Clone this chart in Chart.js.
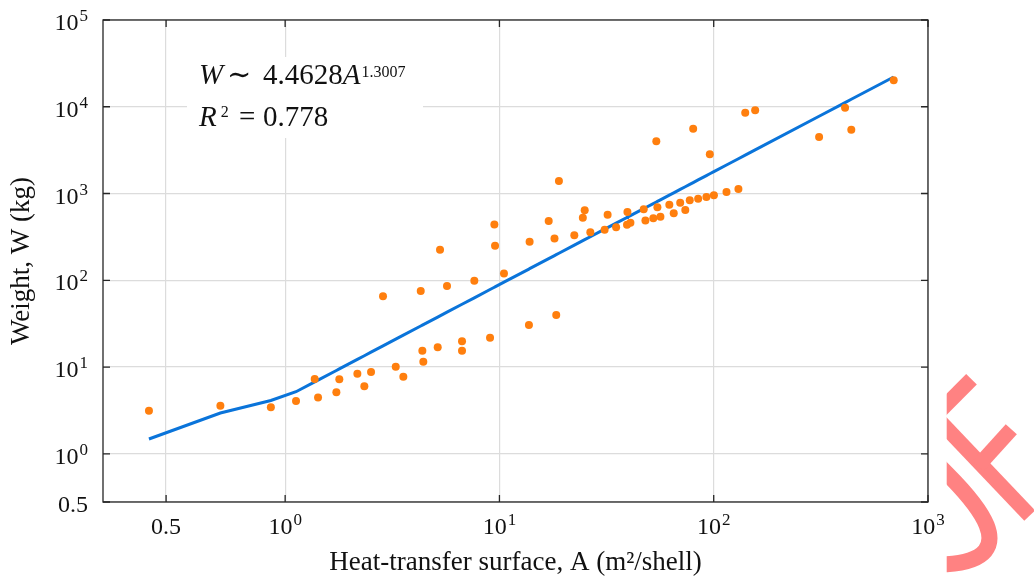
<!DOCTYPE html>
<html lang="en">
<head>
<meta charset="utf-8">
<title>Weight vs heat-transfer surface</title>
<script src="https://cdn.jsdelivr.net/npm/chart.js@4.4.1/dist/chart.umd.min.js"></script>
<style>
    html, body { margin: 0; padding: 0; background: #fff; }
    #div_Chart { width: 1034px; height: 580px; position: relative; }
</style>
</head>
<body>
<div id="div_Chart"><canvas id="chartPeso"></canvas></div>
<script>
// Superficie de troca termica, A (m2/shell)
var areaA = [
    0.428, 0.728, 0.94, 1.124, 1.374, 1.424, 1.734, 1.79, 2.173, 2.342,
    2.517, 2.862, 3.282, 3.561, 4.293, 4.368, 4.414, 5.152, 5.282, 5.693,
    6.69, 6.69, 7.636, 9.04, 9.47, 9.54, 10.5, 13.73, 13.83, 16.98,
    18.07, 18.41, 18.95, 22.36, 24.5, 25.0, 26.56, 30.97, 31.98, 35.04,
    39.39, 39.56, 40.86, 47.13, 48.0, 52.25, 53.97, 54.6, 56.4, 62.07,
    65.07, 69.76, 73.68, 77.3, 80.2, 84.6, 92.45, 95.9, 100.2, 114.7,
    130.4, 140.3, 156.1, 310.3, 410.1, 438.6, 691.7
];
// Peso, W (kg)
var pesoW = [
    3.13, 3.58, 3.43, 4.05, 7.27, 4.47, 5.11, 7.21, 8.37, 5.99,
    8.75, 65.3, 10.1, 7.73, 75.2, 15.4, 11.5, 16.9, 225, 85.8,
    19.8, 15.4, 98.8, 21.8, 439, 250, 120, 30.5, 278, 482,
    304, 39.7, 1394, 330, 526, 642, 357, 382, 570, 409,
    436, 612, 461, 658, 489, 518, 4009, 695, 540, 741,
    593, 783, 645, 835, 5587, 871, 911, 2831, 956, 1041,
    1127, 8544, 9104, 4481, 9754, 5441, 20190
];

var ticksA = [0.5, 1, 10, 100, 1000];
var ticksW = [0.5, 1, 10, 100, 1000, 10000, 100000];
var limitesA = [0.235, 1000];
var limitesW = [0.5, 100000];

// Ajuste mostrado no grafico: W ~ 4.4628 A^1.3007, R2 = 0.778
var coefAjuste = '4.4628';
var expAjuste = '1.3007';
var textoR2 = '0.778';

var corPontos = '#ff7f0e';
var corLinha = '#0a74da';
var corTexto = '#111';
var fonteSerif = '"Liberation Serif", "DejaVu Serif", serif';

// Eixo "symlog" (limiar linear = 1, base 10), igual ao da figura original
var LINSCALE = 1 / (1 - 1 / 10);

function symlog(v) {
    return v <= 1 ? v * LINSCALE : LINSCALE + Math.log10(v);
}

function symexp(s) {
    return s <= LINSCALE ? s / LINSCALE : Math.pow(10, s - LINSCALE);
}

var ticksPorEixo = { x: ticksA, y: ticksW };

class SymlogScale extends Chart.LinearScale {
    buildTicks() {
        return ticksPorEixo[this.id].map(function (v) { return { value: v }; });
    }
    getPixelForValue(value) {
        var a = symlog(this.min), b = symlog(this.max);
        return this.getPixelForDecimal((symlog(value) - a) / (b - a));
    }
    getValueForPixel(pixel) {
        var a = symlog(this.min), b = symlog(this.max);
        return symexp(a + this.getDecimalForPixel(pixel) * (b - a));
    }
}
SymlogScale.id = 'symlog';
Chart.register(SymlogScale);

// Rotulo de tick: "0.5" ou "10" com expoente sobrescrito
function desenharRotulo(ctx, valor, x, yBase, alinhamento) {
    var base = String(valor);
    var expoente = '';
    if (valor >= 1) {
        base = '10';
        expoente = String(Math.round(Math.log10(valor)));
    }
    var fonteBase = '24px ' + fonteSerif;
    var fonteExp = '17px ' + fonteSerif;

    ctx.font = fonteBase;
    var larguraBase = ctx.measureText(base).width;
    ctx.font = fonteExp;
    var larguraExp = expoente ? ctx.measureText(expoente).width + 1 : 0;
    var total = larguraBase + larguraExp;
    var x0 = alinhamento === 'center' ? x - total / 2 : x - total;

    ctx.font = fonteBase;
    ctx.fillText(base, x0, yBase);
    if (expoente) {
        ctx.font = fonteExp;
        ctx.fillText(expoente, x0 + larguraBase + 1, yBase - 9);
    }
}

function desenharRotulosTicks(chart) {
    var ctx = chart.ctx;
    var eixoX = chart.scales.x;
    var eixoY = chart.scales.y;
    var area = chart.chartArea;

    ctx.save();
    ctx.fillStyle = corTexto;
    ctx.textAlign = 'left';
    ctx.textBaseline = 'alphabetic';
    eixoX.ticks.forEach(function (t) {
        desenharRotulo(ctx, t.value, eixoX.getPixelForValue(t.value), area.bottom + 32, 'center');
    });
    eixoY.ticks.forEach(function (t) {
        desenharRotulo(ctx, t.value, area.left - 15, eixoY.getPixelForValue(t.value) + 10, 'right');
    });
    ctx.restore();
}

// Caixa com a equacao do ajuste
function desenharAnotacao(ctx) {
    ctx.save();
    ctx.fillStyle = '#fff';
    ctx.fillRect(187, 57, 236, 81);

    ctx.fillStyle = corTexto;
    ctx.textAlign = 'left';
    ctx.textBaseline = 'alphabetic';

    var grande = '29px ' + fonteSerif;
    var grandeIt = 'italic 29px ' + fonteSerif;
    var pequeno = '16px ' + fonteSerif;

    // linha 1
    ctx.font = grandeIt;
    ctx.fillText('W', 199, 83.5);
    ctx.font = grande;
    ctx.fillText('\u223c', 227, 83.5);
    ctx.fillText(coefAjuste, 263, 83.5);
    var xA = 263 + ctx.measureText(coefAjuste).width;
    ctx.font = grandeIt;
    ctx.fillText('A', xA, 83.5);
    var xExp = xA + ctx.measureText('A').width + 1;
    ctx.font = pequeno;
    ctx.fillText(expAjuste, xExp, 77);

    // linha 2
    ctx.font = grandeIt;
    ctx.fillText('R', 199, 126);
    var xDois = 199 + ctx.measureText('R').width + 4;
    ctx.font = pequeno;
    ctx.fillText('2', xDois, 117);
    ctx.font = grande;
    ctx.fillText('=', 239, 126);
    ctx.fillText(textoR2, 263, 126);
    ctx.restore();
}

// Moldura com marcas para dentro nos quatro lados
function desenharEixos(chart) {
    var ctx = chart.ctx;
    var area = chart.chartArea;
    var eixoX = chart.scales.x;
    var eixoY = chart.scales.y;
    var tam = 7;

    ctx.save();
    ctx.strokeStyle = '#262626';
    ctx.lineWidth = 1.3;
    ctx.beginPath();
    eixoX.ticks.forEach(function (t) {
        var px = eixoX.getPixelForValue(t.value);
        ctx.moveTo(px, area.bottom);
        ctx.lineTo(px, area.bottom - tam);
        ctx.moveTo(px, area.top);
        ctx.lineTo(px, area.top + tam);
    });
    eixoY.ticks.forEach(function (t) {
        var py = eixoY.getPixelForValue(t.value);
        ctx.moveTo(area.left, py);
        ctx.lineTo(area.left + tam, py);
        ctx.moveTo(area.right, py);
        ctx.lineTo(area.right - tam, py);
    });
    ctx.stroke();
    ctx.strokeRect(area.left, area.top, area.right - area.left, area.bottom - area.top);
    ctx.restore();
}

// Marca d'agua rosa no canto inferior direito (cortada a esquerda)
function desenharMarca(ctx) {
    ctx.save();
    ctx.beginPath();
    ctx.rect(946.7, 0, 90, 580);
    ctx.clip();
    ctx.strokeStyle = '#ff8282';
    ctx.lineCap = 'butt';
    ctx.lineWidth = 15;

    ctx.beginPath();
    ctx.moveTo(971.5, 379.2);
    ctx.lineTo(932, 419);
    ctx.stroke();

    ctx.beginPath();
    ctx.moveTo(932, 413);
    ctx.lineTo(1029.7, 515.7);
    ctx.stroke();

    ctx.beginPath();
    ctx.moveTo(978, 466);
    ctx.lineTo(1011.3, 429.3);
    ctx.stroke();

    ctx.lineWidth = 16;
    ctx.beginPath();
    ctx.moveTo(932, 458.6);
    ctx.lineTo(946.7, 473.3);
    ctx.bezierCurveTo(970, 496.6, 1030, 558.3, 946.7, 564.3);
    ctx.lineTo(930, 565.5);
    ctx.stroke();
    ctx.restore();
}

var pluginMoldura = {
    id: 'moldura',
    beforeDatasetsDraw: function (chart) {
        desenharAnotacao(chart.ctx);
    },
    afterDraw: function (chart) {
        desenharEixos(chart);
        desenharRotulosTicks(chart);
        desenharMarca(chart.ctx);
    }
};

function plotarGrafico() {
    var pontos = [];
    for (var i = 0; i < areaA.length; i++) {
        pontos.push({ x: areaA[i], y: pesoW[i] });
    }

    // Curva do ajuste avaliada nas superficies medidas
    var areasOrdenadas = areaA.slice().sort(function (a, b) { return a - b; });
    var curva = areasOrdenadas.map(function (a) {
        return { x: a, y: Number(coefAjuste) * Math.pow(a, Number(expAjuste)) };
    });

    var config = {
        type: 'scatter',
        data: {
            datasets: [
                {
                    label: 'Data',
                    data: pontos,
                    backgroundColor: corPontos,
                    borderWidth: 0,
                    pointRadius: 4,
                    pointHoverRadius: 4
                },
                {
                    label: 'Fit',
                    data: curva,
                    showLine: true,
                    borderColor: corLinha,
                    borderWidth: 3,
                    pointRadius: 0,
                    tension: 0,
                    fill: false
                }
            ]
        },
        options: {
            responsive: true,
            maintainAspectRatio: false,
            animation: false,
            layout: { padding: { left: 0, top: 20, right: 106, bottom: 0 } },
            plugins: {
                legend: { display: false },
                tooltip: { enabled: false }
            },
            scales: {
                x: {
                    type: 'symlog',
                    position: 'bottom',
                    min: limitesA[0],
                    max: limitesA[1],
                    afterFit: function (scale) { scale.height = 78; },
                    grid: { color: '#dcdcdc', lineWidth: 1.2, drawTicks: false },
                    border: { display: false },
                    ticks: { display: false, autoSkip: false },
                    title: {
                        display: true,
                        text: 'Heat-transfer surface, A (m\u00b2/shell)',
                        color: corTexto,
                        font: { family: fonteSerif, size: 27 },
                        padding: { top: 0, bottom: 1 }
                    }
                },
                y: {
                    type: 'symlog',
                    position: 'left',
                    min: limitesW[0],
                    max: limitesW[1],
                    afterFit: function (scale) { scale.width = 103; },
                    grid: { color: '#dcdcdc', lineWidth: 1.2, drawTicks: false },
                    border: { display: false },
                    ticks: { display: false, autoSkip: false },
                    title: {
                        display: true,
                        text: 'Weight, W (kg)',
                        color: corTexto,
                        font: { family: fonteSerif, size: 27 },
                        padding: { top: 6, bottom: 0 }
                    }
                }
            }
        },
        plugins: [pluginMoldura]
    };

    var myChart = new Chart(document.getElementById('chartPeso'), config);
}

plotarGrafico();
</script>
</body>
</html>
